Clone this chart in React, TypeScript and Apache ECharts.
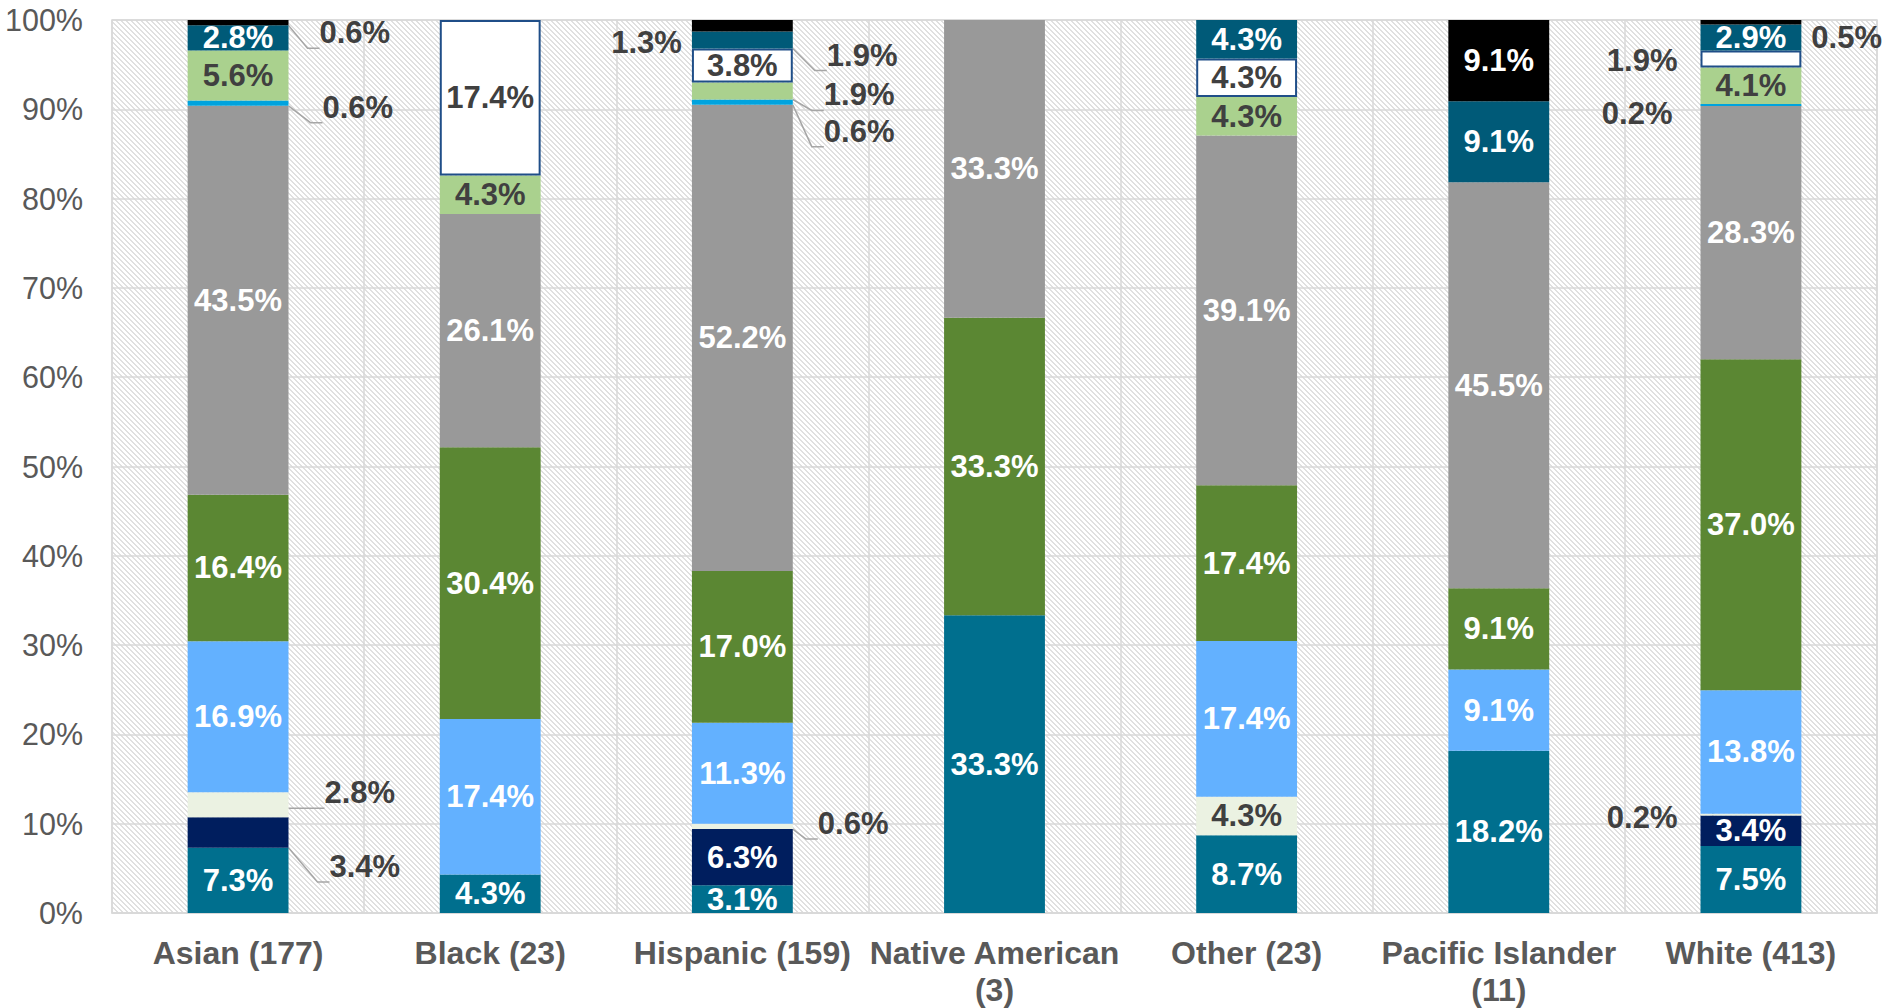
import React, { useEffect, useRef } from 'react';
import * as echarts from 'echarts';

const categories = [
  'Asian (177)',
  'Black (23)',
  'Hispanic (159)',
  'Native American (3)',
  'Other (23)',
  'Pacific Islander (11)',
  'White (413)',
];

// stacked from bottom to top (percent of each group)
const seg1 = [7.3, 4.3, 3.1, 33.3, 8.7, 18.2, 7.5];
const seg2 = [3.4, null, 6.3, null, null, null, 3.4];
const seg3 = [2.8, null, 0.6, null, 4.3, null, 0.2];
const seg4 = [16.9, 17.4, 11.3, null, 17.4, 9.1, 13.8];
const seg5 = [16.4, 30.4, 17.0, 33.3, 17.4, 9.1, 37.0];
const seg6 = [43.5, 26.1, 52.2, 33.3, 39.1, 45.5, 28.3];
const seg7 = [0.6, null, 0.6, null, null, null, 0.2];
const seg8 = [5.6, 4.3, 1.9, null, 4.3, null, 4.1];
const seg9 = [null, 17.4, 3.8, null, 4.3, null, 1.9];
const seg10 = [2.8, null, 1.9, null, 4.3, 9.1, 2.9];
const seg11 = [0.6, null, 1.3, null, null, 9.1, 0.5];

const segments: (number | null)[][] = [seg1, seg2, seg3, seg4, seg5, seg6, seg7, seg8, seg9, seg10, seg11];
const segmentNames = ['Seg 1', 'Seg 2', 'Seg 3', 'Seg 4', 'Seg 5', 'Seg 6', 'Seg 7', 'Seg 8', 'Seg 9', 'Seg 10', 'Seg 11'];

const yMin = 0;
const yMax = 100;
const yInterval = 10;

// styles
const segColors = ['#006F8E', '#001E5E', '#EBF2E2', '#63B1FF', '#5B8733', '#999999', '#00A3DE', '#AAD18E', '#FFFFFF', '#005A78', '#000000'];
const segLabelColors = ['#fff', '#fff', '#404040', '#fff', '#fff', '#fff', '#fff', '#404040', '#404040', '#fff', '#fff'];

// labels placed outside of their (thin) segments
const outsideLabels = [
  { s: 10, c: 0, pos: 'right', off: [26, 10], line: true },
  { s: 6, c: 0, pos: 'right', off: [29, 4], line: true },
  { s: 2, c: 0, pos: 'right', off: [31, -12], line: true },
  { s: 1, c: 0, pos: 'right', off: [36, 34], line: true },
  { s: 10, c: 2, pos: 'left', off: [-5, 17], line: false },
  { s: 9, c: 2, pos: 'right', off: [29, 15], line: true },
  { s: 7, c: 2, pos: 'right', off: [26, 4], line: true },
  { s: 6, c: 2, pos: 'right', off: [26, 29], line: true },
  { s: 2, c: 2, pos: 'right', off: [20, -3], line: true },
  { s: 10, c: 6, pos: 'right', off: [5, 15], line: false },
  { s: 8, c: 6, pos: 'left', off: [-18, 2], line: true },
  { s: 6, c: 6, pos: 'left', off: [-23, 8], line: true },
  { s: 2, c: 6, pos: 'left', off: [-18, 3], line: true },
];

const FONT = '"Liberation Sans", Arial, sans-serif';

function makeHatch() {
  const n = 5;
  const cv = document.createElement('canvas');
  cv.width = n;
  cv.height = n;
  const ctx = cv.getContext('2d')!;
  ctx.fillStyle = '#ffffff';
  ctx.fillRect(0, 0, n, n);
  ctx.fillStyle = '#E0E0E0';
  for (let x = 0; x < n; x++) {
    for (let y = 0; y < n; y++) {
      if ((((x - y) % n) + n) % n < 2) ctx.fillRect(x, y, 1, 1);
    }
  }
  return cv;
}

export default function App() {
  const ref = useRef<HTMLDivElement>(null);
  useEffect(() => {
    if (!ref.current) return;
    const chart = echarts.init(ref.current, null, { renderer: 'svg' });

    const totals = categories.map((_, c) =>
      segments.reduce((acc, arr) => acc + (arr[c] ?? 0), 0)
    );

    const series = segments.map((arr, s) => ({
      name: segmentNames[s],
      type: 'bar',
      stack: 'total',
      barWidth: '40%',
      itemStyle: {
        color: segColors[s],
        borderColor: s === 8 ? '#1F4E88' : undefined,
        borderWidth: s === 8 ? 2 : 0,
      },
      label: {
        show: true,
        position: 'inside',
        color: segLabelColors[s],
        fontSize: 31,
        fontWeight: 'bold',
        fontFamily: FONT,
        formatter: (p: any) => (p.data && p.data.raw != null ? p.data.raw.toFixed(1) + '%' : ''),
      },
      labelLine: { show: false },
      data: arr.map((v, c) => {
        if (v == null) return { value: null, raw: null };
        const item: any = { value: (v / totals[c]) * 100, raw: v };
        const o = outsideLabels.find((q) => q.s === s && q.c === c);
        if (o) {
          item.label = { position: o.pos, distance: 5, offset: o.off, color: '#404040' };
          item.labelLine = {
            show: o.line,
            length2: 12,
            lineStyle: { color: '#A6A6A6', width: 1.5 },
          };
        }
        return item;
      }),
    }));

    chart.setOption({
      animation: false,
      grid: {
        left: 112,
        right: 10,
        top: 20,
        bottom: 95,
        show: true,
        borderColor: '#D9D9D9',
        borderWidth: 1.5,
        backgroundColor: { image: makeHatch(), repeat: 'repeat' },
      },
      xAxis: {
        type: 'category',
        data: categories,
        axisTick: { show: false },
        axisLine: { lineStyle: { color: '#D9D9D9', width: 1.5 } },
        splitLine: { show: true, interval: 0, lineStyle: { color: '#D9D9D9', width: 1.5 } },
        axisLabel: {
          interval: 0,
          color: '#595959',
          fontSize: 32,
          fontWeight: 'bold',
          fontFamily: FONT,
          margin: 21,
          lineHeight: 37,
          formatter: (v: string) => (v.length > 15 ? v.replace(' (', '\n(') : v),
        },
      },
      yAxis: {
        type: 'value',
        min: yMin,
        max: yMax,
        interval: yInterval,
        axisLine: { show: false },
        axisTick: { show: false },
        splitLine: { lineStyle: { color: '#D9D9D9', width: 1.5 } },
        axisLabel: {
          formatter: '{value}%',
          color: '#595959',
          fontSize: 30.5,
          fontFamily: FONT,
          margin: 29,
        },
      },
      series,
    });
    return () => chart.dispose();
  }, []);
  return (
    <div
      ref={ref}
      style={{ position: 'absolute', left: 0, top: 0, width: 1887, height: 1008, background: '#fff' }}
    />
  );
}
